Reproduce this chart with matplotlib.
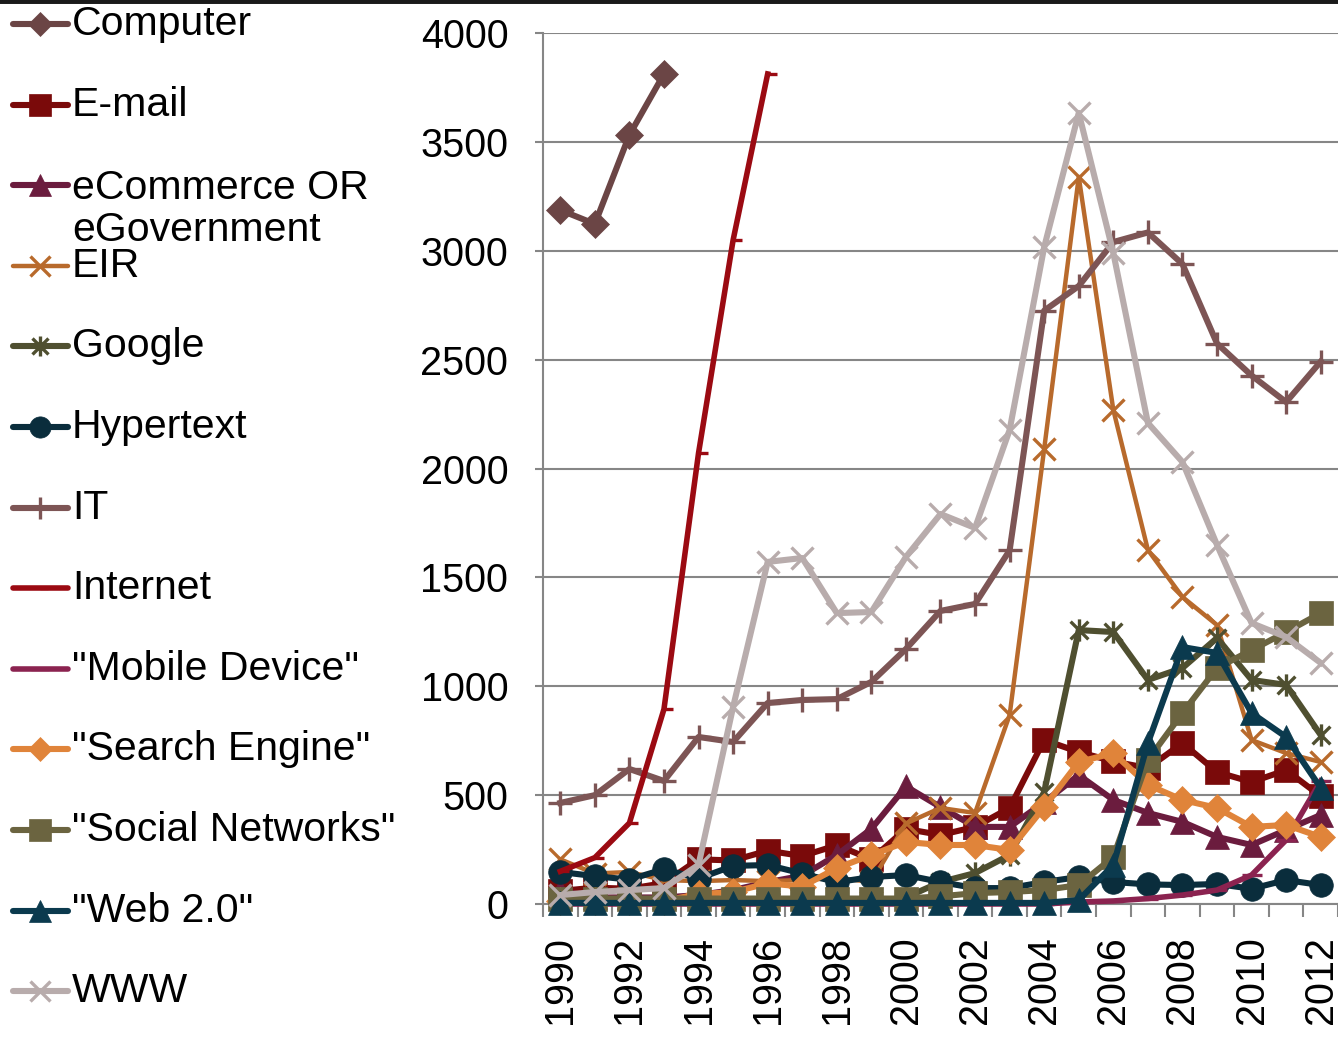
import numpy as np
import matplotlib
matplotlib.use('Agg')
import matplotlib.pyplot as plt
from matplotlib.path import Path
from matplotlib.lines import Line2D

plt.rcParams['font.family'] = ['Liberation Sans', 'DejaVu Sans']

nan = np.nan
years = list(range(1990, 2013))

computer = [3187, 3123, 3532, 3812] + [nan] * 19
email = [60, 75, 70, 96, 205, 200, 245, 220, 270, 205, 345, 317, 354, 441,
         753, 698, 655, 624, 739, 606, 560, 615, 495]
ecommerce = [60, 30, 30, 30, 41, 64, 100, 130, 225, 345, 540, 445, 354, 354,
             468, 592, 478, 418, 377, 308, 271, 340, 409]
eir = [205, 140, 147, 110, 105, 110, 105, 110, 120, 101, 370, 441, 418, 868,
       2090, 3339, 2269, 1626, 1410, 1281, 753, 693, 652]
google = [5, 5, 5, 5, 5, 5, 5, 5, 5, 5, 30, 101, 142, 225, 514, 1258, 1249,
          1029, 1084, 1222, 1029, 1006, 776]
hypertext = [147, 128, 112, 160, 117, 175, 179, 140, 100, 124, 133, 101, 73,
             73, 101, 124, 101, 90, 87, 92, 70, 110, 87]
it = [464, 500, 620, 565, 767, 744, 923, 937, 941, 1020, 1171, 1346, 1378,
      1624, 2725, 2838, 3040, 3084, 2939, 2574, 2427, 2305, 2491]
internet = [150, 213, 372, 895, 2071, 3049, 3812] + [nan] * 16
mobile = [0] * 15 + [9, 14, 25, 41, 64, 133, 294, 565]
search = [15, 15, 15, 15, 45, 55, 95, 80, 165, 225, 285, 271, 271, 248, 445,
          652, 693, 547, 478, 441, 354, 363, 308]
social = [25] * 11 + [35, 50, 55, 64, 87, 216, 661, 877, 1084, 1166, 1249, 1336]
web2 = [5] * 15 + [18, 179, 739, 1180, 1153, 877, 767, 533]
www = [41, 55, 64, 73, 180, 905, 1571, 1589, 1336, 1341, 1594, 1791, 1727,
       2177, 3017, 3633, 2990, 2209, 2030, 1649, 1290, 1226, 1107]

star = Path([(0, -1), (0, 1), (-0.8, -0.8), (0.8, 0.8), (-0.8, 0.8), (0.8, -0.8)],
            [Path.MOVETO, Path.LINETO, Path.MOVETO, Path.LINETO, Path.MOVETO, Path.LINETO])
dash = Path([(0, 0), (1, 0)], [Path.MOVETO, Path.LINETO])

# label, data, color, marker, marker size, line width
series = [
    ('Computer', computer, '#6B4545', 'D', 14, 4.4),
    ('E-mail', email, '#7A0A0A', 's', 17, 4.4),
    ('eCommerce OR\neGovernment', ecommerce, '#6B1C3E', '^', 17, 4.4),
    ('EIR', eir, '#B86A2C', 'x', 16, 3.2),
    ('Google', google, '#4F4F30', star, 16, 4.4),
    ('Hypertext', hypertext, '#0A2D3C', 'o', 17, 4.4),
    ('IT', it, '#7D5555', '+', 17, 4.4),
    ('Internet', internet, '#9B0A12', dash, 13, 4.0),
    ('"Mobile Device"', mobile, '#8B2350', '_', 15, 4.0),
    ('"Search Engine"', search, '#E0843A', 'D', 14, 4.4),
    ('"Social Networks"', social, '#6B6440', 's', 17, 4.4),
    ('"Web 2.0"', web2, '#0B3A4E', '^', 17, 4.4),
    ('WWW', www, '#B8ACAC', 'x', 16, 4.4),
]
line_markers = ('x', '+', '_')

fig = plt.figure(figsize=(13.38, 10.39), dpi=100)
ax = fig.add_axes([543 / 1338, 135 / 1039, 795 / 1338, 871 / 1039])

x = np.arange(len(years))
for i, (label, data, color, marker, ms, lw) in enumerate(series):
    if marker in line_markers or marker is star or marker is dash:
        kw = dict(markerfacecolor='none', markeredgecolor=color, markeredgewidth=2.4)
    else:
        kw = dict(markerfacecolor=color, markeredgecolor=color, markeredgewidth=0.5)
    ax.plot(x, data, color=color, lw=lw, marker=marker, ms=ms, zorder=3 + i,
            clip_on=False, solid_joinstyle='round', **kw)
    # legend entry
    ly = 1 - (24 + 80.6 * i) / 1039
    fig.add_artist(Line2D([13 / 1338, 40 / 1338, 68 / 1338], [ly, ly, ly],
                          color=color, lw=lw, marker=marker, ms=ms * 0.9,
                          markevery=[1], solid_capstyle='round', **kw))
    ty = ly if '\n' not in label else 1 - (24 + 80.6 * i + 23.5) / 1039
    fig.text(72 / 1338, ty, label, fontsize=29.5, va='center', ha='left',
             linespacing=1.13)

ax.set_xlim(-0.5, len(years) - 0.5)
ax.set_ylim(0, 4000)
ax.set_yticks(range(0, 4001, 500))
ax.set_xticks(x[::2])
ax.set_xticklabels([str(y) for y in years[::2]], rotation=90)
ax.set_xticks(np.arange(-0.5, len(years), 1), minor=True)
ax.tick_params(axis='x', which='major', length=0, pad=23, labelsize=28.5)
ax.tick_params(axis='x', which='minor', length=9, width=1.5, color='#868686')
ax.tick_params(axis='y', length=6, width=1.5, color='#868686', pad=19, labelsize=28.5)
ax.grid(axis='y', color='#868686', lw=1.5)
ax.set_axisbelow(True)
for s in ('top', 'right'):
    ax.spines[s].set_visible(False)
for s in ('left', 'bottom'):
    ax.spines[s].set_color('#868686')
    ax.spines[s].set_linewidth(1.5)

fig.add_artist(Line2D([0, 1], [1, 1], color='#1A1A1A', lw=5))

fig.savefig('out.png', dpi=100)
